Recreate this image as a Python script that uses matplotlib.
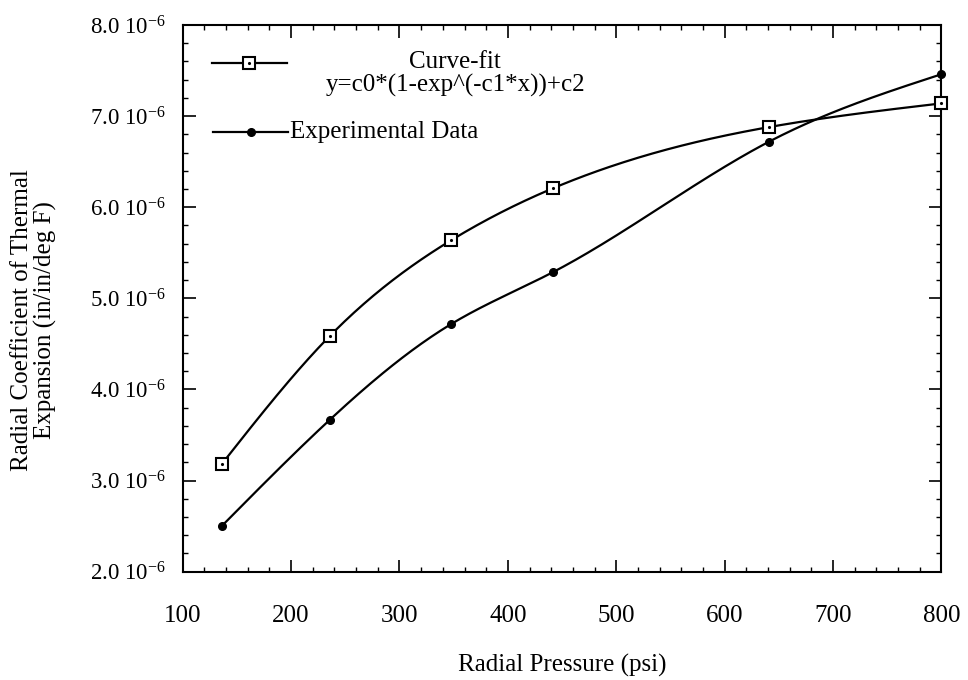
import numpy as np
import matplotlib
matplotlib.use("Agg")
import matplotlib.pyplot as plt
from matplotlib.ticker import MultipleLocator, FixedLocator

plt.rcParams['font.family'] = ['Liberation Serif', 'DejaVu Serif']
plt.rcParams['mathtext.fontset'] = 'custom'
plt.rcParams['mathtext.rm'] = 'Liberation Serif'
plt.rcParams['mathtext.it'] = 'Liberation Serif:italic'

# Data
pressure = [136, 236, 348, 442, 641, 800]
curve_fit = [3.18, 4.59, 5.64, 6.21, 6.88, 7.14]          # x 1e-6
experimental = [2.50, 3.67, 4.72, 5.29, 6.72, 7.46]       # x 1e-6
y_ticks = [2.0, 3.0, 4.0, 5.0, 6.0, 7.0, 8.0]
x_ticks = [100, 200, 300, 400, 500, 600, 700, 800]
legend_fit_1 = "Curve-fit"
legend_fit_2 = "y=c0*(1-exp^(-c1*x))+c2"
legend_exp = "Experimental Data"

FS = 18


def natural_spline(x, y, n=300):
    x = np.asarray(x, float); y = np.asarray(y, float)
    k = len(x); h = np.diff(x)
    A = np.zeros((k, k)); b = np.zeros(k)
    A[0, 0] = 1; A[-1, -1] = 1
    for i in range(1, k - 1):
        A[i, i - 1] = h[i - 1]; A[i, i] = 2 * (h[i - 1] + h[i]); A[i, i + 1] = h[i]
        b[i] = 3 * ((y[i + 1] - y[i]) / h[i] - (y[i] - y[i - 1]) / h[i - 1])
    c = np.linalg.solve(A, b)
    xs = np.linspace(x[0], x[-1], n); ys = np.empty_like(xs)
    for j, xv in enumerate(xs):
        i = min(np.searchsorted(x, xv, side='right') - 1, k - 2)
        d = xv - x[i]
        bi = (y[i + 1] - y[i]) / h[i] - h[i] * (2 * c[i] + c[i + 1]) / 3
        di = (c[i + 1] - c[i]) / (3 * h[i])
        ys[j] = y[i] + bi * d + c[i] * d ** 2 + di * d ** 3
    return xs, ys


fig = plt.figure(figsize=(9.68, 6.8), dpi=100)
ax = fig.add_axes([0.1887, 0.1593, 0.7839, 0.8039])

xs, ys = natural_spline(pressure, curve_fit)
ax.plot(xs, ys, color='black', lw=1.6, zorder=2)
ax.plot(pressure, curve_fit, ls='none', marker='s', ms=8, mfc='white', mec='black', mew=1.5, zorder=3, clip_on=False)
ax.plot(pressure, curve_fit, ls='none', marker='.', ms=2.5, color='black', zorder=4, clip_on=False)

xs, ys = natural_spline(pressure, experimental)
ax.plot(xs, ys, color='black', lw=1.6, zorder=2)
ax.plot(pressure, experimental, ls='none', marker='o', ms=5.5, color='black', zorder=3, clip_on=False)

ax.set_xlim(100, 800)
ax.set_ylim(2.0, 8.0)
ax.xaxis.set_major_locator(FixedLocator(x_ticks))
ax.xaxis.set_minor_locator(MultipleLocator(20))
ax.yaxis.set_major_locator(FixedLocator(y_ticks))
ax.yaxis.set_minor_locator(MultipleLocator(0.2))
ax.set_xticklabels([str(v) for v in x_ticks])
ax.set_yticklabels([f"{v:.1f} 10$^{{\\mathregular{{-6}}}}$" for v in y_ticks])

ax.tick_params(axis='both', which='both', direction='in', top=True, right=True, colors='black')
ax.tick_params(axis='both', which='major', length=9, width=1.2)
ax.tick_params(axis='both', which='minor', length=3.5, width=1.0)
ax.tick_params(axis='x', which='major', pad=24, labelsize=FS)
ax.tick_params(axis='y', which='major', pad=12, labelsize=16.5)
for s in ax.spines.values():
    s.set_linewidth(1.5)

ax.set_xlabel("Radial Pressure (psi)", fontsize=FS, va='center')
ax.xaxis.set_label_coords(0.5, -0.1707)
ax.set_ylabel("Radial Coefficient of Thermal\nExpansion (in/in/deg F)", fontsize=FS,
              va='center', linespacing=1.05)
ax.yaxis.set_label_coords(-0.196, 0.46)

# Legend drawn manually (axes coordinates)
tr = ax.transAxes
ax.plot([0.0386, 0.1375], [0.931, 0.931], transform=tr, color='black', lw=1.6)
ax.plot([0.0873], [0.931], transform=tr, ls='none', marker='s', ms=8, mfc='white', mec='black', mew=1.5)
ax.plot([0.0873], [0.931], transform=tr, ls='none', marker='.', ms=2.5, color='black')
ax.text(0.359, 0.9214, legend_fit_1, transform=tr, ha='center', va='baseline', fontsize=FS)
ax.text(0.359, 0.8775, legend_fit_2, transform=tr, ha='center', va='baseline', fontsize=FS)
ax.plot([0.040, 0.139], [0.805, 0.805], transform=tr, color='black', lw=1.6)
ax.plot([0.090], [0.805], transform=tr, ls='none', marker='o', ms=5.5, color='black')
ax.text(0.1414, 0.793, legend_exp, transform=tr, ha='left', va='baseline', fontsize=FS)

fig.savefig("out.png", dpi=100, facecolor='white')
